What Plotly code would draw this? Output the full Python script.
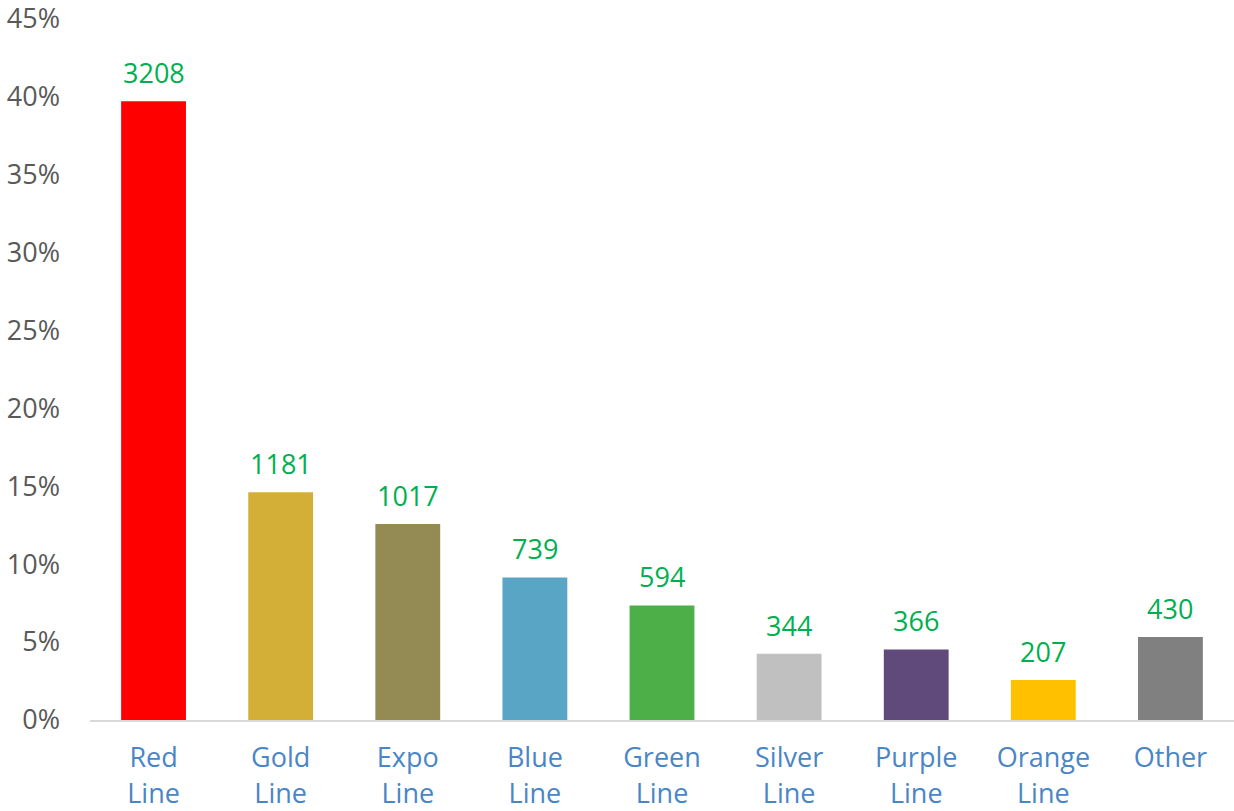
import plotly.graph_objects as go

# ridership by line (counts shown above bars, bar height = share of total)
categories = ["Red<br>Line", "Gold<br>Line", "Expo<br>Line", "Blue<br>Line", "Green<br>Line",
              "Silver<br>Line", "Purple<br>Line", "Orange<br>Line", "Other"]
counts = [3208, 1181, 1017, 739, 594, 344, 366, 207, 430]
bar_colors = ["#FF0000", "#D4AF37", "#948A54", "#59A5C6", "#4CAF47",
              "#C0C0C0", "#604A7B", "#FFC000", "#808080"]
y_ticks = [0, 0.05, 0.10, 0.15, 0.20, 0.25, 0.30, 0.35, 0.40, 0.45]

total = sum(counts)
shares = [c / total for c in counts]

FONT = "Open Sans, Noto Sans, sans-serif"

fig = go.Figure()
fig.add_trace(go.Bar(x=categories, y=shares, marker_color=bar_colors,
                     marker_line_width=0, width=0.51, showlegend=False))

for cat, sh, c in zip(categories, shares, counts):
    fig.add_annotation(x=cat, y=sh, text=str(c), showarrow=False,
                       yanchor="bottom", yshift=8,
                       font=dict(family=FONT, size=27, color="#00B050"))

fig.update_xaxes(showline=True, linecolor="#D9D9D9", linewidth=2,
                 tickfont=dict(family=FONT, size=27, color="#4A86C6"),
                 ticks="", showgrid=False, automargin=False,
                 ticklabelstandoff=13)
fig.update_yaxes(range=[0, 0.4502], tickvals=y_ticks, tickformat=".0%",
                 showgrid=False, zeroline=False, ticks="", automargin=False,
                 ticklabelstandoff=29, ticklabeloverflow="allow",
                 tickfont=dict(family=FONT, size=27, color="#595959"))

fig.update_layout(width=1234, height=811,
                  margin=dict(l=90, r=0, t=18, b=91),
                  plot_bgcolor="white", paper_bgcolor="white",
                  bargap=0.49)

# drop the default page margin so the chart sits at the window's corner
fig.write_html("out.html", config={"displayModeBar": False},
               post_script="document.body.style.margin='0';")
